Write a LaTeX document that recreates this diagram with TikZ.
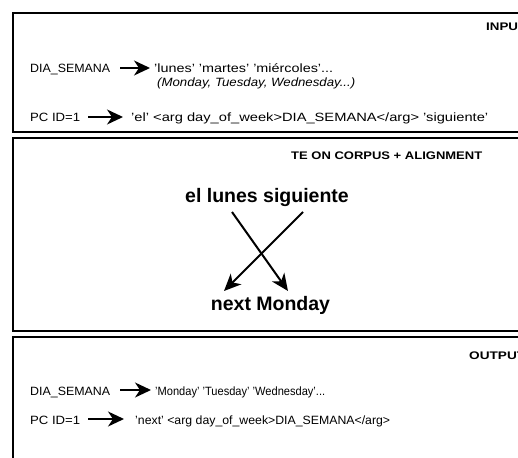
\documentclass[tikz,border=0pt]{standalone}
\usepackage{fontspec}
\usepackage{graphicx}
\setmainfont{Liberation Sans}
\usetikzlibrary{arrows.meta,calc}
\newcommand{\wtext}[2]{\resizebox{#1pt}{\height}{#2}}
\tikzset{
  panel/.style={draw=black, line width=2pt},
  body/.style={inner sep=0pt, anchor=base west, font=\fontsize{12}{14}\selectfont},
  ital/.style={inner sep=0pt, anchor=base west, font=\fontsize{12}{14}\selectfont\itshape},
  head/.style={inner sep=0pt, anchor=base west, font=\fontsize{11}{13}\selectfont\bfseries},
  big/.style={inner sep=0pt, anchor=base, font=\fontsize{19.5}{22}\selectfont\bfseries},
  fat/.style={line width=2pt, -{Stealth[length=16pt,width=15pt,inset=5pt]}},
  cross/.style={line width=2pt, -{Stealth[length=17pt,width=15pt,inset=5pt]}}
}
\begin{document}
\begin{tikzpicture}[x=1pt,y=-1pt]
\useasboundingbox (0,0) rectangle (518,457);
\clip (0,0) rectangle (518,457);
\fill[white] (0,0) rectangle (518,457);
% panels
\draw[panel] (540,13) -- (13,13) -- (13,132) -- (540,132);
\draw[panel] (540,138) -- (13,138) -- (13,331) -- (540,331);
\draw[panel] (540,337) -- (13,337) -- (13,470);
% INPUT panel
\node[head] (hin) at (486,31) {\wtext{40}{INPUT}};
\node[body] (dia1) at (30,73) {\wtext{80}{DIA\_SEMANA}};
\node[body] (val1) at (154,73) {\wtext{179}{'lunes' 'martes' 'miércoles'...}};
\node[ital] (tr1) at (157,87) {\wtext{198}{(Monday, Tuesday, Wednesday...)}};
\node[body] (pc1) at (30,122) {\wtext{50}{PC ID=1}};
\node[body] (pat1) at (131,122) {\wtext{357}{'el' <arg day\_of\_week>DIA\_SEMANA</arg> 'siguiente'}};
\draw[fat] ($(dia1.base east)+(10,-5)$) -- ($(val1.base west)+(-4,-5)$);
\draw[fat] ($(pc1.base east)+(8,-5)$) -- ($(pat1.base west)+(-8,-5)$);
% TE panel
\node[head] (hte) at (291,159) {\wtext{191}{TE ON CORPUS + ALIGNMENT}};
\node[big] (src) at (267,202) {el lunes siguiente};
\node[big] (tgt) at (270.5,310) {next Monday};
\coordinate (s1) at (232,212);
\coordinate (s2) at (303,212);
\coordinate (t1) at (288,291);
\coordinate (t2) at (224,291);
\draw[cross] (s1) -- (t1);
\draw[cross] (s2) -- (t2);
% OUTPUT panel
\node[head] (hout) at (469,359) {\wtext{56}{OUTPUT}};
\node[body] (dia2) at (30,395) {\wtext{80}{DIA\_SEMANA}};
\node[body] (val2) at (155,395) {\wtext{170}{'Monday' 'Tuesday' 'Wednesday'...}};
\node[body] (pc2) at (30,424) {\wtext{50}{PC ID=1}};
\node[body] (pat2) at (135,424) {\wtext{255}{'next' <arg day\_of\_week>DIA\_SEMANA</arg>}};
\draw[fat] ($(dia2.base east)+(10,-5)$) -- ($(val2.base west)+(-4,-5)$);
\draw[fat] ($(pc2.base east)+(8,-5)$) -- ($(pat2.base west)+(-11,-5)$);
\end{tikzpicture}
\end{document}
